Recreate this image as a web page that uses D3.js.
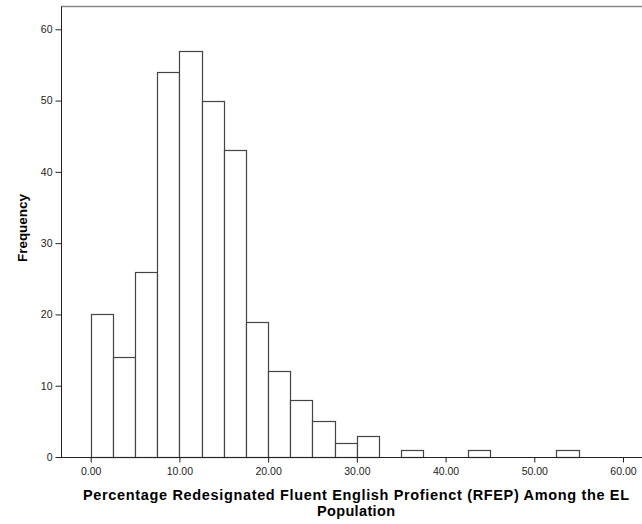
<!DOCTYPE html>
<html>
<head>
<meta charset="utf-8">
<script src="https://cdn.jsdelivr.net/npm/d3@7"></script>
<style>
  body { margin: 0; background: #fff; }
  text { font-family: "Liberation Sans", Arial, sans-serif; }
</style>
</head>
<body>
<script>
// histogram bins (width 2.5) and their counts
var binStarts = [0, 2.5, 5, 7.5, 10, 12.5, 15, 17.5, 20, 22.5, 25, 27.5, 30, 35, 42.5, 52.5];
var counts    = [20, 14, 26, 54, 57, 50, 43, 19, 12, 8, 5, 2, 3, 1, 1, 1];
var binWidth = 2.5;
var xTicks = [0, 10, 20, 30, 40, 50, 60];
var yTicks = [0, 10, 20, 30, 40, 50, 60];

var width = 642, height = 524;
var svg = d3.select("body").append("svg")
    .attr("width", width)
    .attr("height", height);

var x = d3.scaleLinear().domain([0, 60]).range([90.7, 623]);
var y = d3.scaleLinear().domain([0, 60]).range([457, 29.3]);

// frame: top line
svg.append("line")
    .attr("x1", 61).attr("x2", width)
    .attr("y1", 6.5).attr("y2", 6.5)
    .attr("stroke", "#888").attr("stroke-width", 1.5);

// bars
svg.append("g").selectAll("rect")
    .data(binStarts)
    .enter().append("rect")
    .attr("x", function (d) { return Math.round(x(d)) + 0.5; })
    .attr("y", function (d, i) { return Math.round(y(counts[i])) + 0.5; })
    .attr("width", function (d) { return Math.round(x(d + binWidth)) - Math.round(x(d)); })
    .attr("height", function (d, i) { return Math.round(y(0)) - Math.round(y(counts[i])); })
    .attr("fill", "#fff")
    .attr("stroke", "#444")
    .attr("stroke-width", 1.2);

// y axis
var yAxis = svg.append("g")
    .attr("transform", "translate(61.5,0)")
    .call(d3.axisLeft(y).tickValues(yTicks).tickSize(6).tickPadding(3)
        .tickFormat(d3.format("d")));
yAxis.select(".domain").attr("d", "M0,6.5V" + (y(0) + 0.5)).attr("stroke", "#222");
yAxis.selectAll(".tick line").attr("stroke", "#222");
yAxis.selectAll(".tick text").attr("font-size", 10.5).attr("fill", "#222")
    .attr("font-family", "Liberation Sans, Arial, sans-serif");

// x axis
var xAxis = svg.append("g")
    .attr("transform", "translate(0," + (y(0) + 0.5) + ")")
    .call(d3.axisBottom(x).tickValues(xTicks).tickSize(5).tickPadding(5)
        .tickFormat(d3.format(".2f")));
xAxis.select(".domain").attr("d", "M61,0H" + width).attr("stroke", "#222");
xAxis.selectAll(".tick line").attr("stroke", "#222");
xAxis.selectAll(".tick text").attr("font-size", 10.5).attr("fill", "#222")
    .attr("font-family", "Liberation Sans, Arial, sans-serif");

// axis titles
svg.append("text")
    .attr("transform", "translate(27,228) rotate(-90)")
    .attr("text-anchor", "middle")
    .attr("font-size", 13.5).attr("font-weight", "bold")
    .attr("textLength", 68).attr("lengthAdjust", "spacing")
    .text("Frequency");

svg.append("text")
    .attr("x", 356).attr("y", 500)
    .attr("text-anchor", "middle")
    .attr("font-size", 14.5).attr("font-weight", "bold")
    .attr("textLength", 546).attr("lengthAdjust", "spacing")
    .text("Percentage Redesignated Fluent English Profienct (RFEP) Among the EL");
svg.append("text")
    .attr("x", 356).attr("y", 516)
    .attr("text-anchor", "middle")
    .attr("font-size", 14.5).attr("font-weight", "bold")
    .attr("textLength", 78).attr("lengthAdjust", "spacing")
    .text("Population");
</script>
</body>
</html>
